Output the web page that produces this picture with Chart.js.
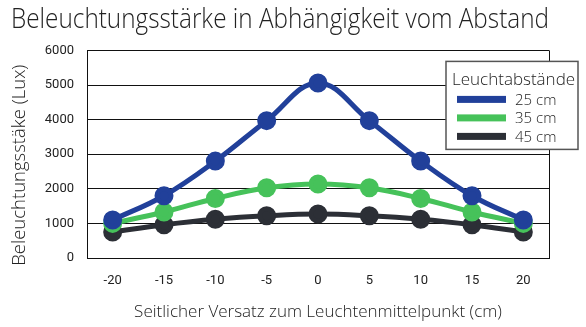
<!DOCTYPE html>
<html><head><meta charset="utf-8">
<script src="https://cdn.jsdelivr.net/npm/chart.js@4/dist/chart.umd.min.js"></script>
<style>html,body{margin:0;padding:0;background:#fff}#wrap{width:586px;height:327px;position:relative}</style>
</head><body><div id="wrap"><canvas id="c" width="586" height="327"></canvas></div>
<script>
const categories = ['-20','-15','-10','-5','0','5','10','15','20'];
const series25 = [1100, 1800, 2800, 3970, 5060, 3970, 2800, 1800, 1100];
const series35 = [1000, 1330, 1720, 2030, 2140, 2030, 1720, 1330, 1000];
const series45 = [750, 960, 1120, 1220, 1270, 1220, 1120, 960, 750];
const seriesLabels = ['25 cm', '35 cm', '45 cm'];
const legendTitle = 'Leuchtabstände';
const titleText = 'Beleuchtungsstärke in Abhängigkeit vom Abstand';
const yTitle = 'Beleuchtungsstäke (Lux)';
const xTitle = 'Seitlicher Versatz zum Leuchtenmittelpunkt (cm)';
const colors = ['#21409a', '#46c25a', '#2c2f36'];

const thin = '"Open Sans", "DejaVu Sans", sans-serif';
const narrow = 'Roboto, "Liberation Sans", sans-serif';

function ds(label, data, color){
  return {label, data, borderColor: color, backgroundColor: color, pointBackgroundColor: color,
    pointBorderColor: color, borderWidth: 5, pointRadius: 7, pointHoverRadius: 7, tension: 0.4, fill: false};
}

const frameAndLegend = {
  id: 'frameAndLegend',
  afterDraw(chart){
    const ctx = chart.ctx, a = chart.chartArea;
    ctx.save();
    ctx.strokeStyle = '#111'; ctx.lineWidth = 1;
    ctx.beginPath();
    ctx.moveTo(Math.round(a.right)+0.5, a.top); ctx.lineTo(Math.round(a.right)+0.5, a.bottom);
    ctx.stroke();
    // y axis title
    ctx.save();
    ctx.translate(20, (a.top + a.bottom) / 2 + 11);
    ctx.rotate(-Math.PI / 2);
    ctx.fillStyle = '#222';
    ctx.font = '300 18.5px ' + thin;
    ctx.textAlign = 'center'; ctx.textBaseline = 'middle';
    ctx.fillText(yTitle, 0, 0);
    ctx.restore();
    // legend box
    const bx = a.right - 103, by = a.top + 11, bw = 132, bh = 88;
    ctx.fillStyle = '#fff';
    ctx.fillRect(bx, by, bw, bh);
    ctx.strokeStyle = '#555'; ctx.lineWidth = 1.5;
    ctx.strokeRect(bx, by, bw, bh);
    ctx.fillStyle = '#222';
    ctx.font = '300 17px ' + thin;
    ctx.textBaseline = 'alphabetic'; ctx.textAlign = 'left';
    ctx.fillText(legendTitle, bx + 6, by + 24);
    ctx.font = '300 15px ' + thin;
    chart.data.datasets.forEach((d, i) => {
      const cy = by + 38 + i * 18.5;
      ctx.fillStyle = d.borderColor;
      ctx.fillRect(bx + 11, cy - 3.5, 49, 7);
      ctx.fillStyle = '#222';
      ctx.textBaseline = 'middle';
      ctx.fillText(d.label, bx + 69, cy + 1);
    });
    ctx.restore();
  }
};

new Chart(document.getElementById('c'), {
  type: 'line',
  data: {
    labels: categories,
    datasets: [ds(seriesLabels[0], series25, colors[0]), ds(seriesLabels[1], series35, colors[1]), ds(seriesLabels[2], series45, colors[2])]
  },
  options: {
    responsive: false, animation: false, devicePixelRatio: 1,
    layout: {padding: {left: 11, right: 37, top: 0, bottom: 0}},
    plugins: {
      legend: {display: false}, tooltip: {enabled: false},
      title: {display: true, text: titleText, align: 'start', color: '#222',
        font: {family: thin, size: 27, weight: '300'}, padding: {top: 4, bottom: 14}}
    },
    scales: {
      x: {
        offset: true,
        grid: {display: false, drawTicks: false},
        border: {display: true, color: '#111', width: 1},
        ticks: {color: '#222', font: {family: narrow, size: 13}, padding: 15, maxRotation: 0},
        title: {display: true, text: xTitle, color: '#222', font: {family: thin, size: 17, weight: '300'}, padding: {top: 6, bottom: 5}},
        afterFit(s){ s.height = 69; }
      },
      y: {
        min: 0, max: 6000,
        ticks: {stepSize: 1000, color: '#222', font: {family: narrow, size: 13}, padding: 13,
          callback: v => String(v)},
        grid: {color: '#111', lineWidth: 1, drawTicks: false},
        border: {display: true, color: '#111', width: 1},
        title: {display: false},
        afterFit(s){ s.width = 76; }
      }
    }
  },
  plugins: [frameAndLegend]
});
</script></body></html>
